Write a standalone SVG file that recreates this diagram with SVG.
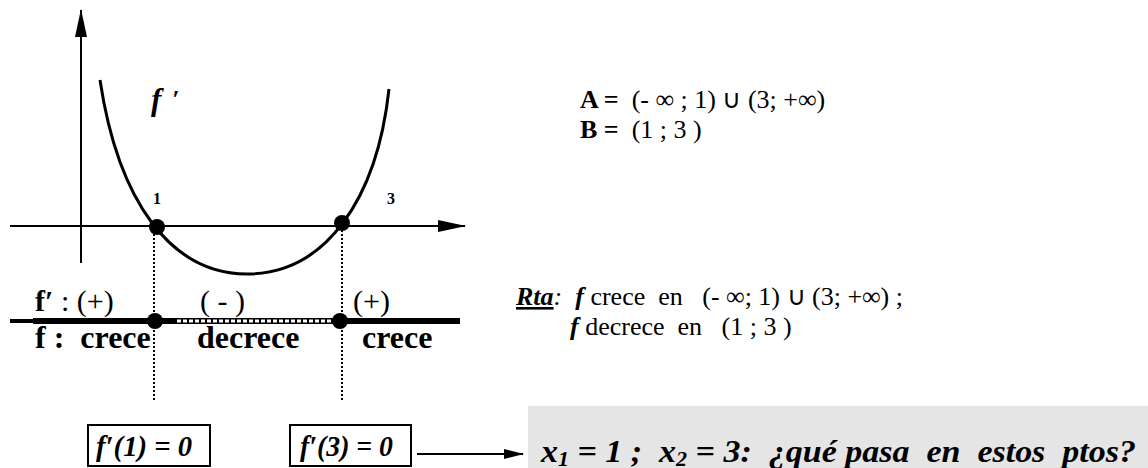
<svg xmlns="http://www.w3.org/2000/svg" width="1148" height="468" viewBox="0 0 1148 468">
<style>
.t{font-family:"Liberation Serif","Times New Roman",serif;fill:#000}
.b{font-weight:bold}
.i{font-style:italic}
.ax{stroke:#000;stroke-width:2;fill:none}
.dot{fill:#000}
.vd{stroke:#000;stroke-width:2;stroke-dasharray:2 2;fill:none}
.box{fill:#fff;stroke:#000;stroke-width:2}
</style>
<defs>
<marker id="ah" viewBox="0 0 28 12" refX="27" refY="6" markerWidth="28" markerHeight="12" markerUnits="userSpaceOnUse" orient="auto">
<path d="M0,0 L28,6 L0,12 Z" fill="#000"/>
</marker>
<marker id="ah2" viewBox="0 0 20 10" refX="19" refY="5" markerWidth="20" markerHeight="10" markerUnits="userSpaceOnUse" orient="auto">
<path d="M0,0 L20,5 L0,10 Z" fill="#000"/>
</marker>
</defs>
<rect width="1148" height="468" fill="#fff"/>

<g id="axes">
<line class="ax" x1="81" y1="263" x2="81" y2="10" marker-end="url(#ah)"/>
<line class="ax" x1="10" y1="226" x2="465" y2="226" marker-end="url(#ah)"/>
</g>

<g id="curve">
<path d="M100,80 C118,200 170,274 247,274 C325,274 377,200 389,89" fill="none" stroke="#000" stroke-width="3"/>
<text class="t b i" x="151" y="110" font-size="31">f</text>
<text class="t b i" x="172" y="108" font-size="26">′</text>
<text class="t b" x="153" y="204" font-size="16">1</text>
<text class="t b" x="387" y="204" font-size="16">3</text>
<circle class="dot" cx="157" cy="227" r="8"/>
<circle class="dot" cx="342" cy="223" r="8"/>
</g>

<g id="guides">
<line class="vd" x1="154" y1="230" x2="154" y2="400"/>
<line class="vd" x1="342" y1="226" x2="342" y2="400"/>
</g>

<g id="signline">
<line x1="10" y1="321" x2="34" y2="321" stroke="#000" stroke-width="4"/>
<line x1="33" y1="321" x2="460" y2="321" stroke="#000" stroke-width="6"/>
<line x1="177" y1="321" x2="332" y2="321" stroke="#fff" stroke-width="3" stroke-dasharray="4 2"/>
<circle class="dot" cx="155" cy="321" r="8"/>
<circle class="dot" cx="340" cy="321" r="8"/>
<text class="t" x="35" y="311" font-size="30" xml:space="preserve"><tspan class="b">f′</tspan> : (+)</text>
<text class="t" x="200" y="311" font-size="30" xml:space="preserve">( - )</text>
<text class="t" x="353" y="311" font-size="30">(+)</text>
<text class="t b" x="35" y="348" font-size="32" xml:space="preserve">f :  crece</text>
<text class="t b" x="197" y="348" font-size="32">decrece</text>
<text class="t b" x="362" y="348" font-size="32">crece</text>
</g>

<g id="sets">
<text class="t" x="580" y="108" font-size="26" xml:space="preserve"><tspan class="b">A =</tspan>  (- ∞ ; 1) ∪ (3; +∞)</text>
<text class="t" x="580" y="138" font-size="26" xml:space="preserve"><tspan class="b">B =</tspan>  (1 ; 3 )</text>
</g>

<g id="answer">
<text class="t" x="516" y="305" font-size="26" xml:space="preserve"><tspan class="b i" text-decoration="underline">Rta</tspan><tspan class="i">:</tspan>  <tspan class="b i">f</tspan> crece  en   (- ∞; 1) ∪ (3; +∞) ;</text>
<text class="t" x="570" y="335" font-size="26" xml:space="preserve"><tspan class="b i">f</tspan> decrece  en   (1 ; 3 )</text>
</g>

<g id="box1">
<rect class="box" x="88" y="425" width="122" height="41"/>
<text class="t b i" x="96" y="456" font-size="29" textLength="96" lengthAdjust="spacingAndGlyphs">f′(1) = 0</text>
</g>

<g id="box2">
<rect class="box" x="290" y="425" width="121" height="41"/>
<text class="t b i" x="300" y="456" font-size="29" textLength="93" lengthAdjust="spacingAndGlyphs">f′(3) = 0</text>
</g>

<g id="question">
<rect x="528" y="406" width="620" height="62" fill="#e5e5e5"/>
<text class="t b i" x="541" y="462" font-size="31" textLength="595" lengthAdjust="spacingAndGlyphs" xml:space="preserve">x<tspan font-size="20" dy="4">1</tspan><tspan dy="-4"> = 1 ;  x</tspan><tspan font-size="20" dy="4">2</tspan><tspan dy="-4"> = 3:  ¿qué pasa  en  estos  ptos?</tspan></text>
</g>

<g id="connectors">
<line x1="417" y1="454" x2="523" y2="454" stroke="#000" stroke-width="2" marker-end="url(#ah2)"/>
</g>
</svg>
